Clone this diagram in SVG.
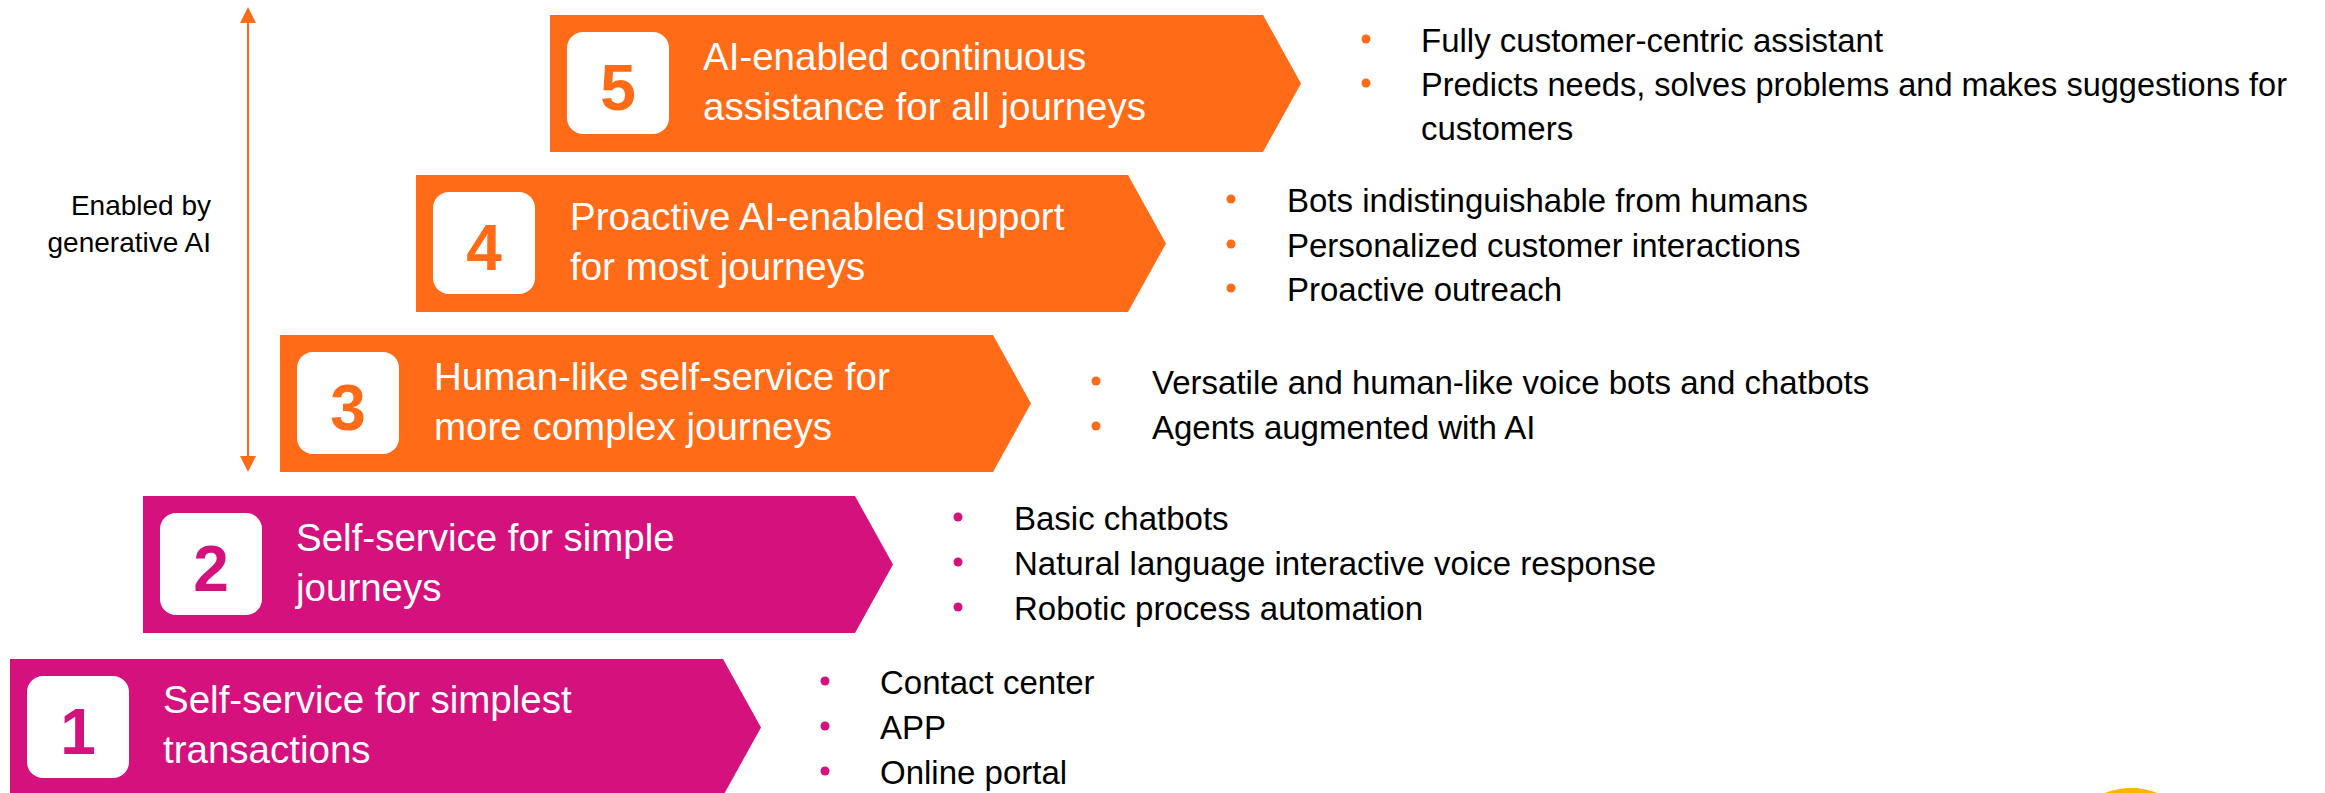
<svg xmlns="http://www.w3.org/2000/svg" width="2325" height="793" viewBox="0 0 2325 793">
<style>
.bg{fill:#ffffff}
.or{fill:#FF6B17}
.mg{fill:#D4117D}
.nb{fill:#ffffff}
.num{font-family:"Liberation Sans",Arial,sans-serif;font-weight:bold;font-size:64px;text-anchor:middle}
.numo{fill:#FF6B17}
.numm{fill:#D4117D}
.title{font-family:"Liberation Sans",Arial,sans-serif;font-size:38.5px;fill:#ffffff}
.item{font-family:"Liberation Sans",Arial,sans-serif;font-size:33px;fill:#000000}
.lbl{font-family:"Liberation Sans",Arial,sans-serif;font-size:28px;fill:#000000;text-anchor:end}
.dot-o{fill:#FF6B17}
.dot-m{fill:#D4117D}
.conn{stroke:#FF6B17;stroke-width:2;fill:none}
</style>
<defs>
<marker id="ah" viewBox="0 0 16 16" markerUnits="userSpaceOnUse" markerWidth="16" markerHeight="16" refX="2" refY="8" orient="auto-start-reverse">
<path d="M0,0 L16,8 L0,16 Z" fill="#FF6B17"/>
</marker>
</defs>
<rect class="bg" x="0" y="0" width="2325" height="793"/>

<g id="connectors">
<line class="conn" x1="248" y1="21" x2="248" y2="458" marker-start="url(#ah)" marker-end="url(#ah)"/>
</g>

<g id="label-genai">
<text class="lbl" x="211" y="215">Enabled by</text>
<text class="lbl" x="211" y="252">generative AI</text>
</g>

<g id="level-5">
<path class="or" d="M550,15 H1263 L1301,83.5 L1263,152 H550 Z"/>
<rect class="nb" x="567" y="32" width="102" height="102" rx="16"/>
<text class="num numo" x="618" y="110">5</text>
<text class="title" x="703" y="70">AI-enabled continuous</text>
<text class="title" x="703" y="120">assistance for all journeys</text>
<circle class="dot-o" cx="1366" cy="39" r="4.5"/>
<circle class="dot-o" cx="1366" cy="83" r="4.5"/>
<text class="item" x="1421" y="52">Fully customer-centric assistant</text>
<text class="item" x="1421" y="96" textLength="866" lengthAdjust="spacingAndGlyphs">Predicts needs, solves problems and makes suggestions for</text>
<text class="item" x="1421" y="140">customers</text>
</g>

<g id="level-4">
<path class="or" d="M416,175 H1128 L1166,243.5 L1128,312 H416 Z"/>
<rect class="nb" x="433" y="192" width="102" height="102" rx="16"/>
<text class="num numo" x="484" y="270">4</text>
<text class="title" x="570" y="230">Proactive AI-enabled support</text>
<text class="title" x="570" y="280">for most journeys</text>
<circle class="dot-o" cx="1231" cy="199" r="4.5"/>
<circle class="dot-o" cx="1231" cy="244" r="4.5"/>
<circle class="dot-o" cx="1231" cy="288" r="4.5"/>
<text class="item" x="1287" y="212">Bots indistinguishable from humans</text>
<text class="item" x="1287" y="257">Personalized customer interactions</text>
<text class="item" x="1287" y="301">Proactive outreach</text>
</g>

<g id="level-3">
<path class="or" d="M280,335 H993 L1031,403.5 L993,472 H280 Z"/>
<rect class="nb" x="297" y="352" width="102" height="102" rx="16"/>
<text class="num numo" x="348" y="430">3</text>
<text class="title" x="434" y="390">Human-like self-service for</text>
<text class="title" x="434" y="440">more complex journeys</text>
<circle class="dot-o" cx="1096" cy="381" r="4.5"/>
<circle class="dot-o" cx="1096" cy="426" r="4.5"/>
<text class="item" x="1152" y="394">Versatile and human-like voice bots and chatbots</text>
<text class="item" x="1152" y="439">Agents augmented with AI</text>
</g>

<g id="level-2">
<path class="mg" d="M143,496 H855 L893,564.5 L855,633 H143 Z"/>
<rect class="nb" x="160" y="513" width="102" height="102" rx="16"/>
<text class="num numm" x="211" y="591">2</text>
<text class="title" x="296" y="551">Self-service for simple</text>
<text class="title" x="296" y="601">journeys</text>
<circle class="dot-m" cx="958" cy="517" r="4.5"/>
<circle class="dot-m" cx="958" cy="562" r="4.5"/>
<circle class="dot-m" cx="958" cy="607" r="4.5"/>
<text class="item" x="1014" y="530">Basic chatbots</text>
<text class="item" x="1014" y="575">Natural language interactive voice response</text>
<text class="item" x="1014" y="620">Robotic process automation</text>
</g>

<g id="level-1">
<path class="mg" d="M10,659 H723 L761,727.5 L723,796 H10 Z"/>
<rect class="nb" x="27" y="676" width="102" height="102" rx="16"/>
<text class="num numm" x="78" y="754">1</text>
<text class="title" x="163" y="713">Self-service for simplest</text>
<text class="title" x="163" y="763">transactions</text>
<circle class="dot-m" cx="825" cy="681" r="4.5"/>
<circle class="dot-m" cx="825" cy="726" r="4.5"/>
<circle class="dot-m" cx="825" cy="771" r="4.5"/>
<text class="item" x="880" y="694">Contact center</text>
<text class="item" x="880" y="739">APP</text>
<text class="item" x="880" y="784">Online portal</text>
</g>

<circle cx="2131" cy="860" r="72" fill="#FFB300"/>
</svg>
